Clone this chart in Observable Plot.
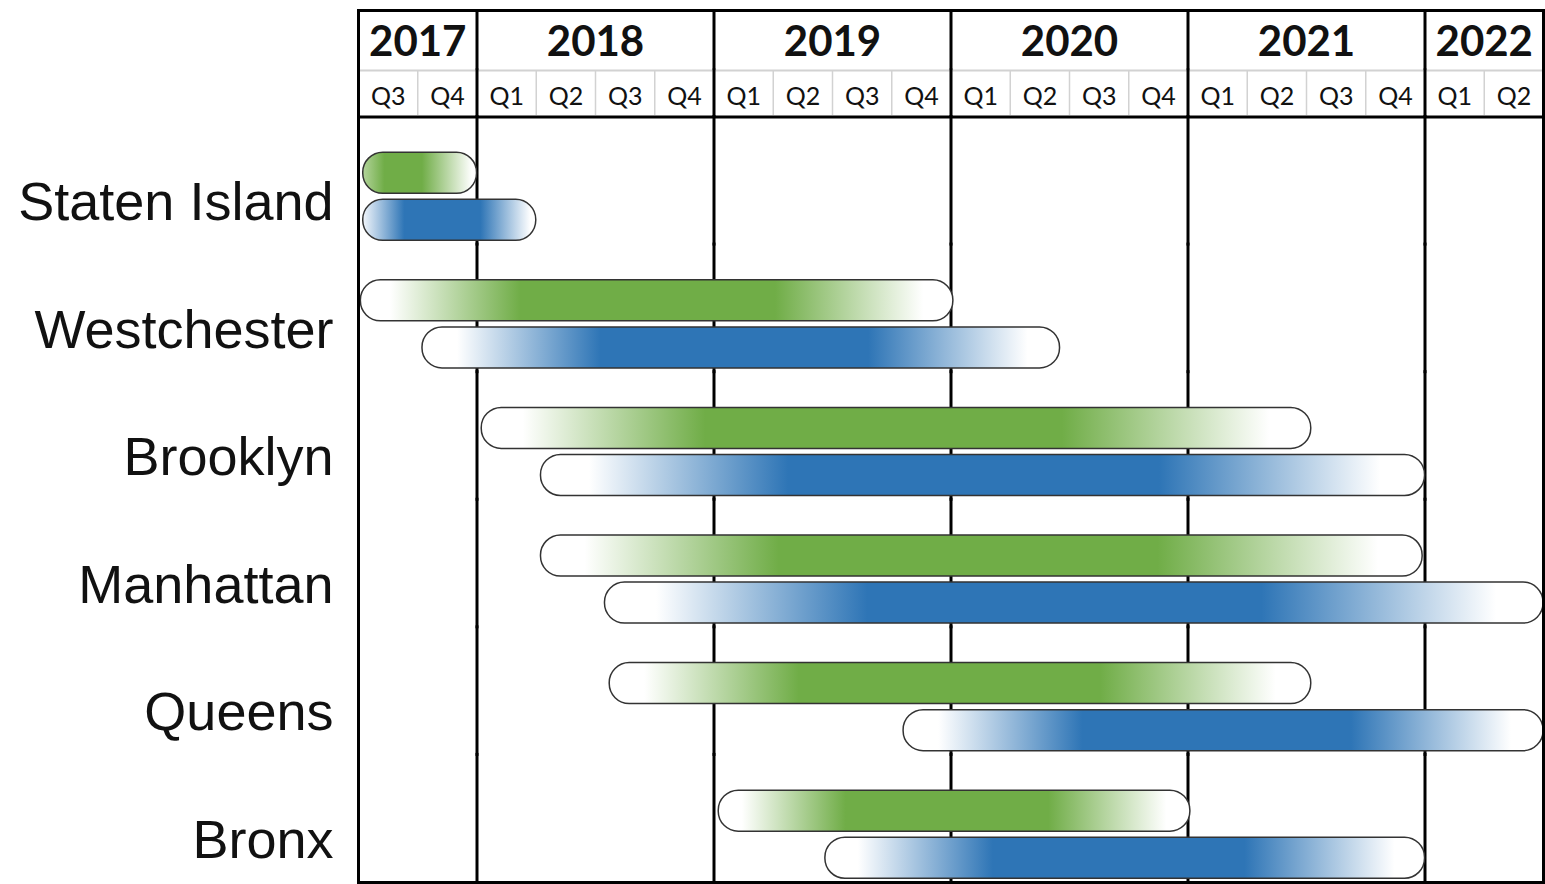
<!DOCTYPE html>
<html><head><meta charset="utf-8">
<script src="https://cdn.jsdelivr.net/npm/d3@7"></script>
<script src="https://cdn.jsdelivr.net/npm/@observablehq/plot@0.6"></script>
<style>
html,body{margin:0;padding:0;background:#fff;overflow:hidden;}
#chart svg{display:block;overflow:visible;}
</style></head><body><div id="chart"></div>
<script>
// ---- data (decimal years) ----
const boroughs = ["Staten Island", "Westchester", "Brooklyn", "Manhattan", "Queens", "Bronx"];
const greenStart = [2017.52, 2017.51, 2018.02, 2018.27, 2018.56, 2019.02];
const greenEnd   = [2018.00, 2020.01, 2021.52, 2021.99, 2021.52, 2021.01];
const blueStart  = [2017.52, 2017.77, 2018.27, 2018.54, 2019.80, 2019.47];
const blueEnd    = [2018.25, 2020.46, 2022.00, 2022.50, 2022.50, 2022.00];

const years     = ["2017", "2018", "2019", "2020", "2021", "2022"];
const yearStart = [2017.5, 2018, 2019, 2020, 2021, 2022];
const yearEnd   = [2018, 2019, 2020, 2021, 2022, 2022.5];
const quarterYears  = [2017,2017,2018,2018,2018,2018,2019,2019,2019,2019,2020,2020,2020,2020,2021,2021,2021,2021,2022,2022];
const quarterLabels = ["Q3","Q4","Q1","Q2","Q3","Q4","Q1","Q2","Q3","Q4","Q1","Q2","Q3","Q4","Q1","Q2","Q3","Q4","Q1","Q2"];

// ---- derived tables ----
const bars = boroughs.flatMap((b, i) => [
  {borough: b, series: "green", start: greenStart[i], end: greenEnd[i]},
  {borough: b, series: "blue", start: blueStart[i], end: blueEnd[i]}
]);
const yearCells = years.map((y, i) => ({year: y, start: yearStart[i], end: yearEnd[i]}));
const yearBounds = Array.from(new Set([...yearStart, ...yearEnd]));
const quarters = quarterLabels.map((q, i) => {
  const s = quarterYears[i] + (+q.slice(1) - 1) / 4;
  return {label: q, start: s, end: s + 0.25};
});
const quarterBounds = Array.from(new Set(quarters.flatMap(d => [d.start, d.end])));

const W = 1545, ML = 358, MR = 2;
const xOpt = () => ({domain: [yearStart[0], yearEnd[yearEnd.length - 1]], axis: null});
const GREEN = "#70AD47", BLUE = "#2E75B6";

// ---- header: years ----
const yearPlot = Plot.plot({
  width: W, height: 70, marginTop: 10, marginBottom: 0, marginLeft: ML, marginRight: MR,
  x: xOpt(),
  style: {background: "transparent"},
  marks: [
    Plot.ruleX(yearBounds, {stroke: "#000", strokeWidth: 3}),
    Plot.frame({anchor: "top", stroke: "#000", strokeWidth: 3, strokeLinecap: "square"}),
    Plot.text(yearCells, {x: d => (d.start + d.end) / 2, text: "year", frameAnchor: "middle",
      fontFamily: "Lato", fontWeight: "bold", fontSize: 42, fill: "#111", dy: 2})
  ]
});

// ---- header: quarters ----
const quarterPlot = Plot.plot({
  width: W, height: 45, marginTop: 0, marginBottom: 0, marginLeft: ML, marginRight: MR,
  x: xOpt(),
  style: {background: "transparent"},
  marks: [
    Plot.ruleX(quarterBounds, {stroke: "#d2d2d2", strokeWidth: 1.5}),
    Plot.frame({anchor: "top", stroke: "#d2d2d2", strokeWidth: 2}),
    Plot.ruleX(yearBounds, {stroke: "#000", strokeWidth: 3, strokeLinecap: "square"}),
    Plot.text(quarters, {x: d => (d.start + d.end) / 2, text: "label", frameAnchor: "middle",
      fontFamily: "Lato", fontSize: 25, fill: "#111", dy: 4})
  ]
});

// ---- body ----
const isShort = d => d.borough === boroughs[0];
const barStyle = {x1: "start", x2: "end", y: "series", fy: "borough", stroke: "#333", strokeWidth: 1.5, rx: 20};
const bodyPlot = Plot.plot({
  width: W, height: 769, marginTop: 1.5, marginBottom: 2, marginLeft: ML, marginRight: MR,
  x: xOpt(),
  y: {domain: ["green", "blue"], paddingInner: 0.128, paddingOuter: 0.42, align: 0.905, round: false, axis: null},
  fy: {domain: boroughs, paddingInner: 0, paddingOuter: 0, round: false, axis: null},
  style: {background: "transparent"},
  marks: [
    Plot.ruleX(yearBounds, {stroke: "#000", strokeWidth: 3, strokeLinecap: "square"}),
    Plot.rect(bars, {...barStyle, filter: d => d.series === "green" && !isShort(d), fill: "url(#gradGreen)"}),
    Plot.rect(bars, {...barStyle, filter: d => d.series === "blue" && !isShort(d), fill: "url(#gradBlue)"}),
    Plot.rect(bars, {...barStyle, filter: d => d.series === "green" && isShort(d), fill: "url(#gradGreenShort)"}),
    Plot.rect(bars, {...barStyle, filter: d => d.series === "blue" && isShort(d), fill: "url(#gradBlueShort)"}),
    Plot.frame({facet: "super", stroke: "#000", strokeWidth: 3}),
    Plot.text(boroughs, {fy: d => d, text: d => d, frameAnchor: "left", textAnchor: "end", dx: -25, dy: 22,
      fontFamily: "Liberation Sans, Arial, sans-serif", fontSize: 54, fill: "#111"})
  ]
});

const defs = d3.select(bodyPlot).insert("defs", ":first-child");
function grad(id, stops) {
  const g = defs.append("linearGradient").attr("id", id)
    .attr("x1", 0).attr("x2", 1).attr("y1", 0).attr("y2", 0);
  stops.forEach(([o, c]) => g.append("stop").attr("offset", o).attr("stop-color", c));
}
grad("gradGreen", [[0, "#fff"], [0.05, "#fff"], [0.27, GREEN], [0.70, GREEN], [0.95, "#fff"], [1, "#fff"]]);
grad("gradBlue",  [[0, "#fff"], [0.055, "#fff"], [0.28, BLUE], [0.70, BLUE], [0.95, "#fff"], [1, "#fff"]]);
grad("gradGreenShort", [[0, "#b3d49b"], [0.19, GREEN], [0.52, GREEN], [0.96, "#fff"], [1, "#fff"]]);
grad("gradBlueShort",  [[0, "#f2f6fb"], [0.24, BLUE], [0.68, BLUE], [0.97, "#fff"], [1, "#fff"]]);

const chart = document.getElementById("chart");
chart.append(yearPlot, quarterPlot, bodyPlot);
</script>
</body></html>
